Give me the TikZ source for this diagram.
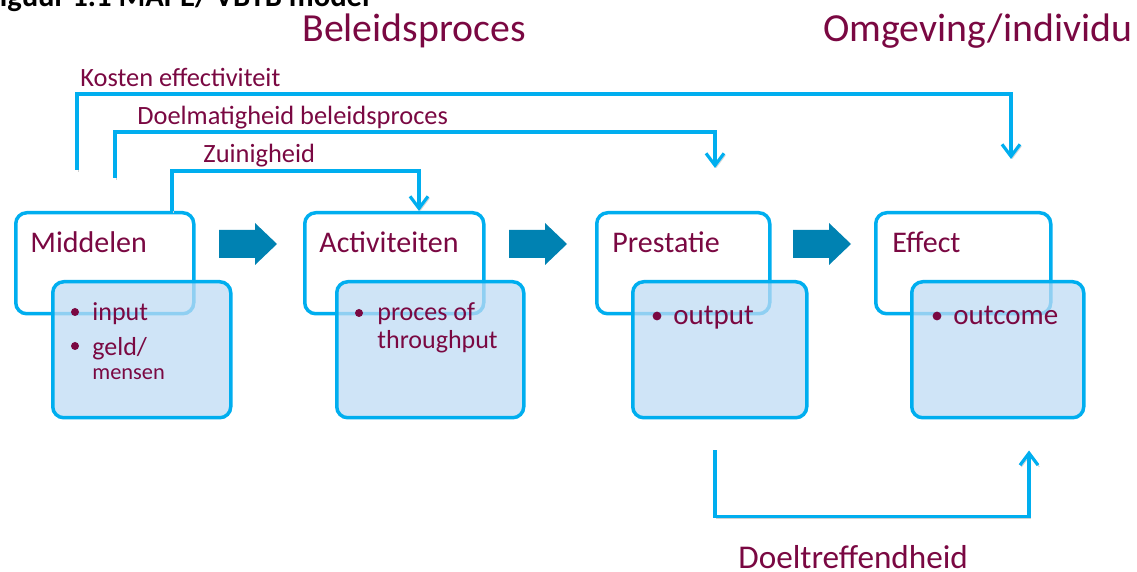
\documentclass[tikz,border=0pt]{standalone}
\usepackage{fontspec}
\setmainfont{Carlito}
\usetikzlibrary{arrows.meta}
\definecolor{paars}{RGB}{122,8,66}
\definecolor{lijn}{RGB}{0,174,239}
\definecolor{pijl}{RGB}{0,130,178}
\definecolor{vak}{RGB}{191,219,244}
\newcommand{\fs}[1]{\fontsize{#1}{#1}\selectfont}
\newcommand{\blokpijl}[1]{\fill[pijl] (#1,230) -- ++(36,0) -- ++(0,-7) -- ++(22,21) -- ++(-22,21) -- ++(0,-7) -- ++(-36,0) -- cycle;}

\begin{document}
\begin{tikzpicture}[x=0.5pt,y=-0.5pt,
   every node/.style={text=paars,inner sep=0pt},
   kop/.style={draw=lijn,line width=1.75pt,rounded corners=5.5pt,fill=white,anchor=north west,minimum height=50.5pt},
   inhoud/.style={draw=lijn,line width=1.75pt,rounded corners=5.5pt,fill=vak,fill opacity=0.75,anchor=north west,minimum height=68pt},
   haak/.style={draw=lijn,line width=1.6pt,-{Straight Barb[length=6pt,width=9pt]},
      preaction={draw=black!18,transform canvas={shift={(0.7pt,-0.9pt)}}}},
   titel/.style={anchor=base west,font=\fs{19.9}},
   haaktekst/.style={anchor=base west,font=\fs{13.2}},
   kopje/.style={anchor=base west,font=\fs{15}},
   punt/.style={anchor=base west,font=\fs{13}}]
   \useasboundingbox (0,0) rectangle (1137,572);
   \node[anchor=base east,text=black,font=\bfseries\fs{15.3}] (figuur) at (370,7) {Figuur 1.1 MAPE/ VBTB model};
   \node[titel] (beleid) at (302,42) {Beleidsproces};
   \node[titel] (omgeving) at (823,42) {Omgeving/individu};

   \node[kop,minimum width=89pt] (middelen) at (14,211) {};
   \node[kop,minimum width=89.5pt] (activiteiten) at (303,211) {};
   \node[kop,minimum width=86.5pt] (prestatie) at (595,211) {};
   \node[kop,minimum width=87.5pt] (effect) at (874,211) {};
   \node[inhoud,minimum width=89pt] (input) at (51,280) {};
   \node[inhoud,minimum width=93.5pt] (proces) at (335,280) {};
   \node[inhoud,minimum width=87pt] (output) at (631,280) {};
   \node[inhoud,minimum width=86pt] (outcome) at (910,280) {};

   \node[kopje] (tmiddelen) at (30,253) {Middelen};
   \node[kopje] (tactiviteiten) at (319,253) {Activiteiten};
   \node[kopje] (tprestatie) at (612,253) {Prestatie};
   \node[kopje] (teffect) at (892,253) {Effect};

   \fill[paars] (75,312) circle(2pt);
   \fill[paars] (75,346) circle(2pt);
   \node[punt] (tinput) at (92,321) {input};
   \node[punt] (tgeld) at (92,356) {geld/};
   \node[punt,font=\fs{11.2}] (tmensen) at (92,380) {mensen};
   \fill[paars] (359,313) circle(2pt);
   \node[punt] (tproces) at (377,321) {proces of};
   \node[punt] (tthroughput) at (377,349) {throughput};
   \fill[paars] (657,316) circle(2.2pt);
   \node[punt,font=\fs{14.5}] (toutput) at (673,325) {output};
   \fill[paars] (937,316) circle(2.2pt);
   \node[punt,font=\fs{14.5}] (toutcome) at (953,325) {outcome};

   \blokpijl{219}
   \blokpijl{509}
   \blokpijl{793}

   \coordinate (k0) at (77,170);
   \coordinate (k1) at (1011,159);
   \coordinate (d0) at (115,178);
   \coordinate (d1) at (715,168);
   \path (middelen.north west) ++(158,0) coordinate (z0);
   \path (activiteiten.north west) ++(116,0) coordinate (z1);
   \path (output.south west) ++(84,31) coordinate (b0);
   \path (outcome.south west) ++(119,31) coordinate (b1);
   \draw[haak] (k0) -- ++(0,-76) -| (k1);
   \draw[haak] (d0) -- ++(0,-46) -| (d1);
   \draw[haak] (z0) -- ++(0,-40) -| (z1);
   \draw[haak] (b0) -- ++(0,66) -| (b1);
   \node[haaktekst] (kosten) at (80,87) {Kosten effectiviteit};
   \node[haaktekst] (doelmatig) at (137,125) {Doelmatigheid beleidsproces};
   \node[haaktekst] (zuinig) at (203,163) {Zuinigheid};
   \node[anchor=base west,font=\fs{16.6}] (doeltreffend) at (738,568) {Doeltreffendheid};
\end{tikzpicture}
\end{document}
